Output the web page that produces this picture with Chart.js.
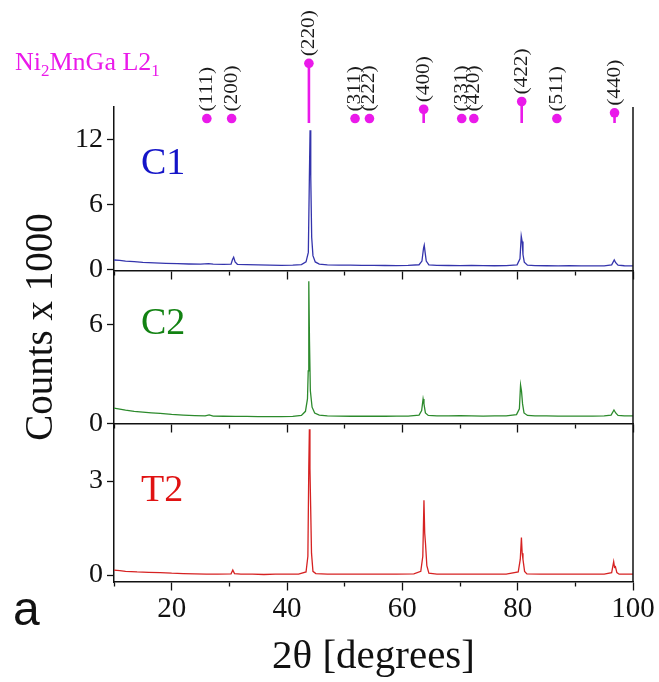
<!DOCTYPE html>
<html>
<head>
<meta charset="utf-8">
<title>XRD Ni2MnGa</title>
<script src="https://cdn.jsdelivr.net/npm/chart.js@4.4.1/dist/chart.umd.min.js"></script>
<style>
  html, body { margin: 0; padding: 0; background: #fff; }
  #xrd { display: block; }
</style>
</head>
<body>
<canvas id="xrd" width="659" height="682"></canvas>
<script>
// Ni2MnGa L2_1 reference reflections: 2θ and relative intensity
const REF_HKL = ['(111)', '(200)', '(220)', '(311)', '(222)', '(400)', '(331)', '(420)', '(422)', '(511)', '(440)'];
const REF_ANGLE = [26.1, 30.4, 43.8, 51.8, 54.3, 63.7, 70.3, 72.4, 80.7, 86.8, 96.8];
const REF_INT = [7.5, 7.5, 100, 7.5, 7.5, 23, 7.5, 7.5, 36, 7.5, 17];

// measured patterns (counts x 1000)
const C1_ANGLE = [10, 11, 12, 13.5, 15, 17, 19, 21, 23, 25,
  26.4, 27.2, 29, 30.3, 30.55, 30.75, 31.0, 31.4, 33, 35,
  37, 39, 41, 42.5, 43.3, 43.7, 43.88, 44.0, 44.12, 44.28,
  44.5, 44.9, 45.6, 47, 49, 51, 53, 55, 57, 59,
  61, 62.9, 63.4, 63.68, 63.8, 63.95, 64.15, 64.6, 66, 68,
  70, 72, 74, 76, 78, 79.9, 80.4, 80.62, 80.78, 80.92,
  81.15, 81.7, 83, 85, 87, 89, 91, 93, 95, 96.3,
  96.75, 97.0, 97.4, 98.5, 100];
const C1_COUNTS = [0.90, 0.86, 0.80, 0.74, 0.68, 0.63, 0.59, 0.56, 0.53, 0.52,
  0.56, 0.52, 0.50, 0.52, 0.95, 1.15, 0.72, 0.50, 0.47, 0.44,
  0.42, 0.40, 0.42, 0.48, 0.72, 1.6, 8.5, 12.85, 8.6, 3.0,
  1.3, 0.72, 0.52, 0.45, 0.43, 0.42, 0.41, 0.40, 0.39, 0.38,
  0.40, 0.46, 0.8, 2.0, 2.27, 1.6, 0.8, 0.45, 0.40, 0.39,
  0.38, 0.39, 0.38, 0.37, 0.38, 0.45, 1.0, 3.1, 2.6, 1.4,
  0.7, 0.42, 0.38, 0.37, 0.36, 0.37, 0.35, 0.35, 0.36, 0.45,
  0.9, 0.65, 0.42, 0.37, 0.36];

const C2_ANGLE = [10, 11, 12, 13.5, 15, 16.5, 18, 20, 22, 24,
  25.8, 26.5, 27.2, 29, 31, 33, 35, 37, 39, 41,
  42.5, 43.2, 43.55, 43.68, 43.78, 43.9, 44.05, 44.35, 44.8, 45.6,
  47, 49, 51, 53, 55, 57, 59, 61, 62.9, 63.35,
  63.6, 63.75, 64.0, 64.5, 66, 68, 70, 72, 74, 76,
  78, 79.8, 80.3, 80.5, 80.66, 80.85, 81.1, 81.7, 83, 85,
  87, 89, 91, 93, 95, 96.2, 96.7, 97.0, 97.4, 98.5,
  100];
const C2_COUNTS = [0.94, 0.88, 0.82, 0.75, 0.70, 0.66, 0.62, 0.56, 0.52, 0.49,
  0.47, 0.53, 0.46, 0.45, 0.44, 0.44, 0.43, 0.43, 0.43, 0.44,
  0.50, 0.75, 1.5, 3.2, 8.65, 5.0, 2.0, 1.0, 0.65, 0.52,
  0.47, 0.46, 0.45, 0.45, 0.46, 0.45, 0.46, 0.46, 0.52, 0.80,
  1.5, 1.2, 0.65, 0.50, 0.47, 0.47, 0.48, 0.47, 0.46, 0.47,
  0.47, 0.55, 0.90, 2.35, 2.0, 1.2, 0.65, 0.50, 0.47, 0.47,
  0.46, 0.46, 0.46, 0.46, 0.47, 0.52, 0.83, 0.65, 0.50, 0.47,
  0.47];

const T2_ANGLE = [10, 11, 12, 14, 16, 18, 20, 22, 24, 26,
  28, 30.3, 30.6, 30.9, 32, 34, 36, 38, 40, 42,
  43.3, 43.62, 43.78, 43.88, 43.98, 44.1, 44.25, 44.5, 45, 47,
  50, 53, 56, 59, 62, 63.2, 63.55, 63.75, 63.88, 64.02,
  64.25, 64.6, 66, 70, 74, 78, 80.1, 80.45, 80.65, 80.78,
  80.92, 81.2, 81.6, 84, 88, 92, 95, 96.3, 96.65, 96.8,
  96.95, 97.2, 97.6, 99, 100];
const T2_COUNTS = [0.16, 0.14, 0.12, 0.10, 0.09, 0.08, 0.06, 0.05, 0.04, 0.03,
  0.03, 0.04, 0.16, 0.05, 0.03, 0.03, 0.02, 0.03, 0.03, 0.03,
  0.10, 0.60, 3.46, 4.65, 3.4, 2.2, 0.70, 0.12, 0.05, 0.03,
  0.03, 0.03, 0.03, 0.03, 0.04, 0.12, 0.60, 2.39, 1.34, 1.0,
  0.30, 0.06, 0.03, 0.03, 0.03, 0.03, 0.10, 0.50, 1.2, 0.70,
  0.50, 0.12, 0.04, 0.03, 0.03, 0.03, 0.03, 0.08, 0.43, 0.25,
  0.27, 0.08, 0.03, 0.03, 0.03];

// axis ticks and which of them get a label
const X_TICKS = [10, 20, 30, 40, 50, 60, 70, 80, 90, 100];
const X_LABELS = [20, 40, 60, 80, 100];
const C1_TICKS = [0, 3, 6, 9, 12, 15];
const C1_LABELS = [0, 6, 12];
const C2_TICKS = [0, 3, 6, 9];
const C2_LABELS = [0, 6];
const T2_TICKS = [0, 1.5, 3, 4.5];
const T2_LABELS = [0, 3];

const SERIF = "'Times New Roman', 'Liberation Serif', serif";
const INK = '#111';
const MAGENTA = '#ea1aea';
const BLUE = { line: '#3434ac', text: '#1414c8' };
const GREEN = { line: '#2c8a2c', text: '#128212' };
const RED = { line: '#d62222', text: '#e01212' };
const AXIS_WIDTH = 114;
const TRACE_WIDTH = 1.3;

const series = (xs, ys) => xs.map((x, i) => ({ x: x, y: ys[i] }));

// minor ticks are drawn half length by dashing the far end away
const minorDash = (labels, nearEndFirst) => (c) => {
  if (!c.tick || labels.includes(c.tick.value)) return [];
  return nearEndFirst ? [4, 40] : [0, 3, 4, 40];
};

// every scale in the left stack reserves the same width, so the plot area starts at AXIS_WIDTH
const fixWidth = (s) => { s.width = AXIS_WIDTH; };

function panelY(min, max, stackWeight, weight, ticks, labels) {
  return {
    type: 'linear', axis: 'y', position: 'left', stack: 'panels',
    stackWeight: stackWeight, weight: weight, min: min, max: max,
    afterBuildTicks: (s) => { s.ticks = ticks.map(v => ({ value: v })); },
    afterFit: fixWidth,
    border: { display: true, color: INK, width: 1.5 },
    grid: {
      drawOnChartArea: false, drawTicks: true, tickLength: 7,
      tickWidth: 1.3, tickColor: INK, tickBorderDash: minorDash(labels, false)
    },
    ticks: {
      padding: 4, color: INK, font: { family: SERIF, size: 28 },
      callback: (v) => labels.includes(v) ? String(v) : ''
    }
  };
}

function panelX(position, showLabels) {
  return {
    type: 'linear', axis: 'x', position: position, min: 10, max: 100,
    offset: false,
    afterBuildTicks: (s) => { s.ticks = X_TICKS.map(v => ({ value: v })); },
    border: { display: true, color: INK, width: 1.5 },
    grid: {
      offset: false, drawOnChartArea: false, drawTicks: true, tickLength: 8,
      tickWidth: 1.3, tickColor: INK, tickBorderDash: minorDash(X_LABELS, true)
    },
    ticks: {
      display: showLabels, padding: 2, color: INK, maxRotation: 0,
      font: { family: SERIF, size: 29 },
      callback: (v) => X_LABELS.includes(v) ? String(v) : ''
    }
  };
}

const PANEL_TAGS = [
  { text: 'C1', axis: 'yC1', value: 8.8, color: BLUE.text },
  { text: 'C2', axis: 'yC2', value: 5.45, color: GREEN.text },
  { text: 'T2', axis: 'yT2', value: 2.36, color: RED.text }
];

// frame, panel tags, reflection labels and axis titles
const decorations = {
  id: 'decorations',
  afterDraw(chart) {
    const { ctx, chartArea, scales } = chart;
    ctx.save();

    // right edge of the stacked frame
    ctx.strokeStyle = INK;
    ctx.lineWidth = 1.5;
    ctx.beginPath();
    ctx.moveTo(chartArea.right, scales.yC1.top);
    ctx.lineTo(chartArea.right, scales.yT2.bottom);
    ctx.stroke();

    // sample names
    ctx.font = '38px ' + SERIF;
    ctx.textAlign = 'left';
    ctx.textBaseline = 'alphabetic';
    PANEL_TAGS.forEach(t => {
      ctx.fillStyle = t.color;
      ctx.fillText(t.text, chartArea.left + 27, scales[t.axis].getPixelForValue(t.value));
    });

    // hkl of each reference reflection, written upwards above its marker
    const dots = chart.getDatasetMeta(4).data;
    ctx.fillStyle = '#1a1a1a';
    ctx.font = '19px ' + SERIF;
    ctx.textBaseline = 'middle';
    REF_HKL.forEach((hkl, i) => {
      const p = dots[i];
      ctx.save();
      ctx.translate(p.x, p.y - 7);
      ctx.rotate(-Math.PI / 2);
      ctx.scale(1.12, 1);
      ctx.fillText(hkl, 0, 0);
      ctx.restore();
    });

    // phase name with subscripts
    ctx.fillStyle = MAGENTA;
    ctx.textBaseline = 'alphabetic';
    let cx = 15;
    const base = 70;
    [['Ni', 26, 0], ['2', 17, 6], ['MnGa L2', 26, 0], ['1', 17, 6]].forEach(([s, size, drop]) => {
      ctx.font = size + 'px ' + SERIF;
      ctx.fillText(s, cx, base + drop);
      cx += ctx.measureText(s).width;
    });

    // axis titles
    ctx.fillStyle = INK;
    ctx.font = '41px ' + SERIF;
    ctx.textAlign = 'center';
    ctx.fillText('2θ [degrees]', (chartArea.left + chartArea.right) / 2, 668);

    ctx.save();
    ctx.translate(52, 327);
    ctx.rotate(-Math.PI / 2);
    ctx.font = '39px ' + SERIF;
    ctx.fillText('Counts x 1000', 0, 0);
    ctx.restore();

    // panel letter
    ctx.textAlign = 'left';
    ctx.font = '48px "Liberation Sans", Arial, sans-serif';
    ctx.fillText('a', 13, 625);

    ctx.restore();
  }
};

Chart.defaults.font.family = SERIF;
Chart.defaults.color = INK;

new Chart(document.getElementById('xrd'), {
  type: 'line',
  data: {
    datasets: [
      { label: 'C1', data: series(C1_ANGLE, C1_COUNTS), yAxisID: 'yC1', xAxisID: 'x',
        borderColor: BLUE.line, borderWidth: TRACE_WIDTH, pointRadius: 0 },
      { label: 'C2', data: series(C2_ANGLE, C2_COUNTS), yAxisID: 'yC2', xAxisID: 'x',
        borderColor: GREEN.line, borderWidth: TRACE_WIDTH, pointRadius: 0 },
      { label: 'T2', data: series(T2_ANGLE, T2_COUNTS), yAxisID: 'yT2', xAxisID: 'x',
        borderColor: RED.line, borderWidth: TRACE_WIDTH, pointRadius: 0 },
      { label: 'L21 sticks', yAxisID: 'yRef', xAxisID: 'x',
        data: REF_ANGLE.flatMap((a, i) => [{ x: a, y: 0 }, { x: a, y: REF_INT[i] }, { x: a, y: null }]),
        borderColor: MAGENTA, borderWidth: 2.6, pointRadius: 0, spanGaps: false, clip: false },
      { label: 'L21 peaks', yAxisID: 'yRef', xAxisID: 'x',
        data: series(REF_ANGLE, REF_INT), showLine: false,
        pointRadius: 4.8, pointBackgroundColor: MAGENTA, pointBorderWidth: 0, clip: false }
    ]
  },
  options: {
    responsive: false,
    animation: false,
    devicePixelRatio: 1,
    layout: { padding: { top: 47, right: 26, bottom: 100, left: 0 } },
    plugins: { legend: { display: false }, tooltip: { enabled: false } },
    scales: {
      x: panelX({ yT2: -0.22 }, true),
      xC1: panelX({ yC1: -0.07 }, false),
      xC2: panelX({ yC2: -0.02 }, false),
      yRef: { type: 'linear', axis: 'y', position: 'left', stack: 'panels', display: false,
              stackWeight: 60, weight: 4, min: 26.8, max: 127.3, afterFit: fixWidth },
      yC1: panelY(-0.07, 15, 163.5, 3, C1_TICKS, C1_LABELS),
      yC2: panelY(-0.02, 9.3, 153.5, 2, C2_TICKS, C2_LABELS),
      yT2: panelY(-0.22, 4.82, 158, 1, T2_TICKS, T2_LABELS)
    }
  },
  plugins: [decorations]
});
</script>
</body>
</html>
